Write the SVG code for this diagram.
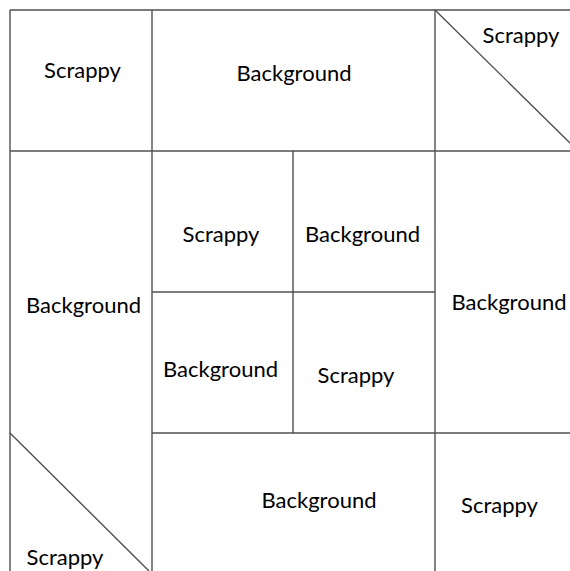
<svg xmlns="http://www.w3.org/2000/svg" width="570" height="571" viewBox="0 0 570 571">
<style>
.ln{stroke:#505050;stroke-width:1.4;fill:none}
text{font-family:Lato,"Liberation Sans",sans-serif;font-size:22px;fill:#000;text-anchor:middle}
</style>
<rect x="0" y="0" width="570" height="571" fill="#fff"/>
<g id="connectors">
<line class="ln" x1="10" y1="10" x2="570" y2="10"/>
<line class="ln" x1="10" y1="10" x2="10" y2="571"/>
<line class="ln" x1="152" y1="10" x2="152" y2="571"/>
<line class="ln" x1="435" y1="10" x2="435" y2="571"/>
<line class="ln" x1="293" y1="151" x2="293" y2="433"/>
<line class="ln" x1="10" y1="151" x2="570" y2="151"/>
<line class="ln" x1="152" y1="292" x2="435" y2="292"/>
<line class="ln" x1="152" y1="433" x2="570" y2="433"/>
<line class="ln" x1="435" y1="10" x2="570" y2="143"/>
<line class="ln" x1="10" y1="433" x2="149" y2="571"/>
</g>
<g id="n1"><text x="82.5" y="78">Scrappy</text></g>
<g id="n2"><text x="294" y="81">Background</text></g>
<g id="n3"><text x="521" y="43">Scrappy</text></g>
<g id="n4"><text x="221" y="242">Scrappy</text></g>
<g id="n5"><text x="362.5" y="242">Background</text></g>
<g id="n6"><text x="220.5" y="377">Background</text></g>
<g id="n7"><text x="356" y="383">Scrappy</text></g>
<g id="n8"><text x="83.5" y="313">Background</text></g>
<g id="n9"><text x="509" y="310">Background</text></g>
<g id="n10"><text x="319" y="508">Background</text></g>
<g id="n11"><text x="499.5" y="513">Scrappy</text></g>
<g id="n12"><text x="65" y="565">Scrappy</text></g>
</svg>
